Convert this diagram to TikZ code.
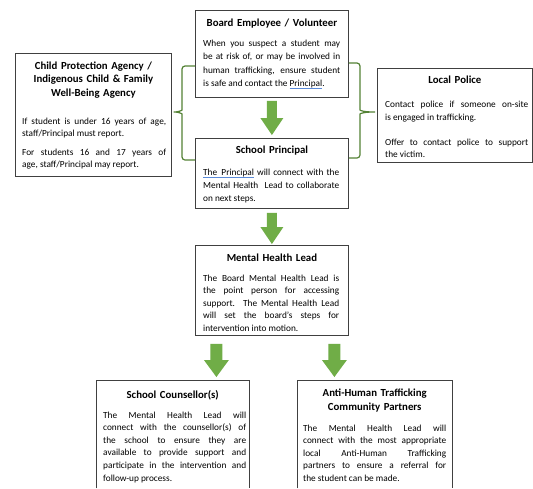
\documentclass[tikz,border=0pt]{standalone}
\usepackage{fontspec}
\setmainfont{Carlito}
\usetikzlibrary{calc}
\definecolor{garrow}{HTML}{70AD47}
\definecolor{bracec}{HTML}{548235}
\definecolor{boxc}{HTML}{404040}
\definecolor{ulblue}{HTML}{5B8BD9}
\newcommand\tb[2]{\vtop{\hsize=#1\relax\parindent=0pt #2}}
\newcommand\jline[1]{\hbox to\hsize{\spaceskip=0pt\xspaceskip=0pt #1}}
\newcommand\lline[1]{\hbox to\hsize{\spaceskip=0pt\xspaceskip=0pt #1\hfil}}
\newcommand\bul[1]{\setbox0\hbox{#1}\rlap{\color{ulblue}\rule[-2.4pt]{\wd0}{0.8pt}}\box0\relax}
\newcommand\greenarrow[5]{%
  \fill[garrow] let \p1=(#1), \p2=(#2) in
    ({\x1-#3},{\y1}) -- ({\x1+#3},{\y1}) -- ({\x1+#3},{\y2+#5}) --
    ({\x1+#4},{\y2+#5}) -- ({\x1},{\y2}) -- ({\x1-#4},{\y2+#5}) --
    ({\x1-#3},{\y2+#5}) -- cycle;}
\begin{document}
\begin{tikzpicture}[x=1pt,y=-1pt,
  box/.style={draw=boxc, line width=0.8pt, rectangle, inner sep=0pt, anchor=north west, fill=white},
  openbox/.style={rectangle, inner sep=0pt, anchor=north west},
  boxline/.style={draw=boxc, line width=0.8pt},
  ttl/.style={font=\bfseries\fontsize{10.8}{13.5}\selectfont, anchor=base, inner sep=0pt, text width=150pt, align=center},
  body/.style={anchor=base west, inner sep=0pt, font=\fontsize{9.3}{#1}\selectfont},
  brace/.style={draw=bracec, line width=1.2pt, rounded corners=3pt}]
\fill[white] (0,0) rectangle (533,488);
\useasboundingbox (0,0) rectangle (533,488);

% Board employee
\node[box, minimum width=153pt, minimum height=87pt] (board) at (195,10) {};
\node[ttl] (boardT) at ([yshift=-16pt]board.north) {Board Employee / Volunteer};
\node[body=13.5pt] (boardB) at ([xshift=8pt,yshift=-36pt]board.north west) {\tb{137pt}{%
\jline{When you suspect a student may}%
\jline{be at risk of, or may be involved in}%
\jline{human trafficking, ensure student}%
\lline{is safe and contact the \bul{Principal}.}}};

% School principal
\node[box, minimum width=153pt, minimum height=70pt] (principal) at (195,138) {};
\node[ttl] (principalT) at ([yshift=-15.5pt]principal.north) {School Principal};
\node[body=13pt] (principalB) at ([xshift=8pt,yshift=-37pt]principal.north west) {\tb{136pt}{%
\jline{\bul{The\ \ Principal} will connect with the}%
\jline{Mental Health\ \ Lead to collaborate}%
\lline{on next steps.}}};

% Mental health lead
\node[box, minimum width=153pt, minimum height=90pt] (mhl) at (195,245) {};
\node[ttl] (mhlT) at ([yshift=-16pt]mhl.north) {Mental Health Lead};
\node[body=12.5pt] (mhlB) at ([xshift=8pt,yshift=-36pt]mhl.north west) {\tb{136pt}{%
\jline{The Board Mental Health Lead is}%
\jline{the point person for accessing}%
\jline{support.\ \ The Mental Health Lead}%
\jline{will set the board's steps for}%
\lline{intervention into motion.}}};

% Child protection agency
\node[box, minimum width=156pt, minimum height=123pt] (cp) at (15,53) {};
\node[ttl, text width=156pt] (cpT) at ([yshift=-16pt]cp.north) {Child Protection Agency /\\Indigenous Child \& Family\\Well-Being Agency};
\node[body=12pt] (cpB) at ([xshift=7pt,yshift=-71.5pt]cp.north west) {\tb{144pt}{%
\jline{If student is under 16 years of age,}%
\lline{staff/Principal must report.}%
\vskip 6.5pt
\jline{For students 16 and 17 years of}%
\lline{age, staff/Principal may report.}}};

% Local police
\node[box, minimum width=155pt, minimum height=94pt] (lp) at (377,68) {};
\node[ttl] (lpT) at ([yshift=-15.5pt]lp.north) {Local Police};
\node[body=12.5pt] (lpB) at ([xshift=8pt,yshift=-39.5pt]lp.north west) {\tb{143pt}{%
\jline{Contact police if someone on-site}%
\lline{is engaged in trafficking.}%
\vskip 12.5pt
\jline{Offer to contact police to support}%
\lline{the victim.}}};

% School counsellor(s)
\node[openbox, minimum width=153pt, minimum height=108pt] (sc) at (96,380) {};
\draw[boxline] (sc.south west) -- (sc.north west) -- (sc.north east) -- (sc.south east);
\node[ttl] (scT) at ([yshift=-18pt]sc.north) {School Counsellor(s)};
\node[body=12.6pt] (scB) at ([xshift=7pt,yshift=-38pt]sc.north west) {\tb{143pt}{%
\jline{The Mental Health Lead will}%
\jline{connect with the counsellor(s) of}%
\jline{the school to ensure they are}%
\jline{available to provide support and}%
\jline{participate in the intervention and}%
\lline{follow-up process.}}};

% Anti-human trafficking community partners
\node[openbox, minimum width=155pt, minimum height=108pt] (aht) at (297,380) {};
\draw[boxline] (aht.south west) -- (aht.north west) -- (aht.north east) -- (aht.south east);
\node[ttl, font=\bfseries\fontsize{10.8}{14}\selectfont] (ahtT) at ([yshift=-16.5pt]aht.north) {Anti-Human Trafficking\\Community Partners};
\node[body=12.6pt] (ahtB) at ([xshift=6pt,yshift=-51pt]aht.north west) {\tb{143pt}{%
\jline{The Mental Health Lead will}%
\jline{connect with the most appropriate}%
\jline{local Anti-Human Trafficking}%
\jline{partners to ensure a referral for}%
\lline{the student can be made.}}};

% Braces
\draw[brace] (board.west |- 0,66) -- (182,66) -- (182,107)
  .. controls (182,110.5) and (178,112) .. (cp.east |- 0,112)
  .. controls (178,112) and (182,113.5) .. (182,117) -- (182,160) -- (principal.west |- 0,160);
\draw[brace] (board.east |- 0,63) -- (360,63) -- (360,107)
  .. controls (360,110.5) and (364,112) .. (lp.west |- 0,112)
  .. controls (364,112) and (360,113.5) .. (360,117) -- (360,158) -- (principal.east |- 0,158);

% Green block arrows
\greenarrow{[yshift=-3pt]board.south}{[yshift=3pt]principal.north}{5pt}{11.5pt}{17pt}
\greenarrow{[yshift=-4pt]principal.south}{[yshift=1pt]mhl.north}{5pt}{11.5pt}{17pt}
\greenarrow{[xshift=-55.5pt,yshift=-8pt]mhl.south}{[yshift=3pt]sc.north}{6pt}{12.5pt}{17pt}
\greenarrow{[xshift=62.5pt,yshift=-8pt]mhl.south}{[yshift=3pt]aht.north}{6pt}{12.5pt}{17pt}
\end{tikzpicture}
\end{document}
